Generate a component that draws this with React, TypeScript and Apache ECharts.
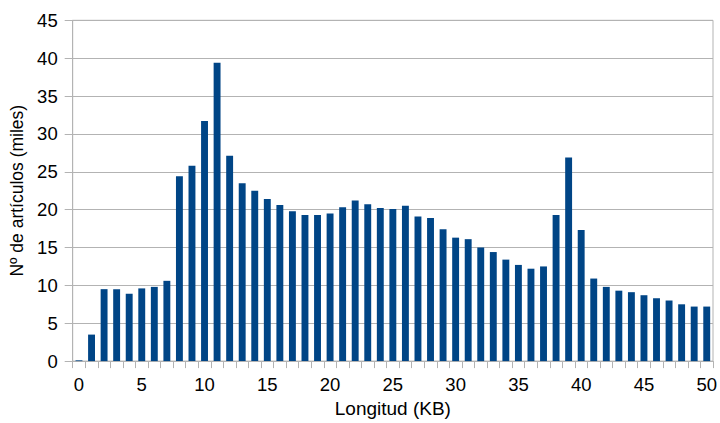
import React, { useEffect, useRef } from "react";
import * as echarts from "echarts";

const categories: string[] = Array.from({ length: 51 }, (_, i) => String(i));
const values: number[] = [
  0.1, 3.5, 9.5, 9.5, 8.9, 9.6, 9.8, 10.6, 24.4, 25.8,
  31.7, 39.4, 27.1, 23.5, 22.5, 21.4, 20.6, 19.8, 19.3, 19.3,
  19.5, 20.3, 21.2, 20.7, 20.2, 20.1, 20.5, 19.1, 18.9, 17.4,
  16.3, 16.1, 15.0, 14.4, 13.4, 12.7, 12.2, 12.5, 19.3, 26.9,
  17.3, 10.9, 9.8, 9.3, 9.1, 8.7, 8.3, 8.0, 7.5, 7.2,
  7.2,
];
const yTitle = "Nº de artículos (miles)";
const xTitle = "Longitud (KB)";

export default function App() {
  const ref = useRef<HTMLDivElement>(null);
  useEffect(() => {
    if (!ref.current) return;
    const chart = echarts.init(ref.current, undefined, { renderer: "svg" });
    const font = "'Liberation Sans', Arial, sans-serif";
    chart.setOption({
      animation: false,
      backgroundColor: "#ffffff",
      grid: {
        left: 72.7,
        right: 4.7,
        top: 20.3,
        bottom: 58,
        show: true,
        borderColor: "#b3b3b3",
        borderWidth: 1,
        backgroundColor: "transparent",
      },
      xAxis: {
        type: "category",
        data: categories,
        boundaryGap: true,
        name: xTitle,
        nameLocation: "middle",
        nameGap: 37,
        nameTextStyle: { fontFamily: font, fontSize: 19, color: "#000" },
        axisLine: { show: true, lineStyle: { color: "#b3b3b3", width: 1 } },
        axisTick: { show: true, interval: 0, length: 7, lineStyle: { color: "#b3b3b3" } },
        axisLabel: {
          interval: 0,
          formatter: (v: string) => (Number(v) % 5 === 0 ? v : ""),
          fontFamily: font,
          fontSize: 18.5,
          color: "#000",
          margin: 14,
        },
        splitLine: { show: false },
      },
      yAxis: {
        type: "value",
        min: 0,
        max: 45,
        interval: 5,
        name: yTitle,
        nameLocation: "middle",
        nameGap: 41,
        nameTextStyle: { fontFamily: font, fontSize: 17.5, color: "#000" },
        axisLine: { show: true, lineStyle: { color: "#b3b3b3", width: 1 } },
        axisTick: { show: true, length: 8, lineStyle: { color: "#b3b3b3" } },
        axisLabel: { fontFamily: font, fontSize: 18.5, color: "#000", margin: 15 },
        splitLine: { show: true, lineStyle: { color: "#b3b3b3", width: 1 } },
      },
      series: [
        {
          type: "bar",
          data: values,
          barWidth: "55%",
          itemStyle: { color: "#004586" },
        },
      ],
    });
    return () => chart.dispose();
  }, []);
  return <div ref={ref} style={{ width: 720, height: 423, position: "absolute", left: 0, top: 0 }} />;
}
